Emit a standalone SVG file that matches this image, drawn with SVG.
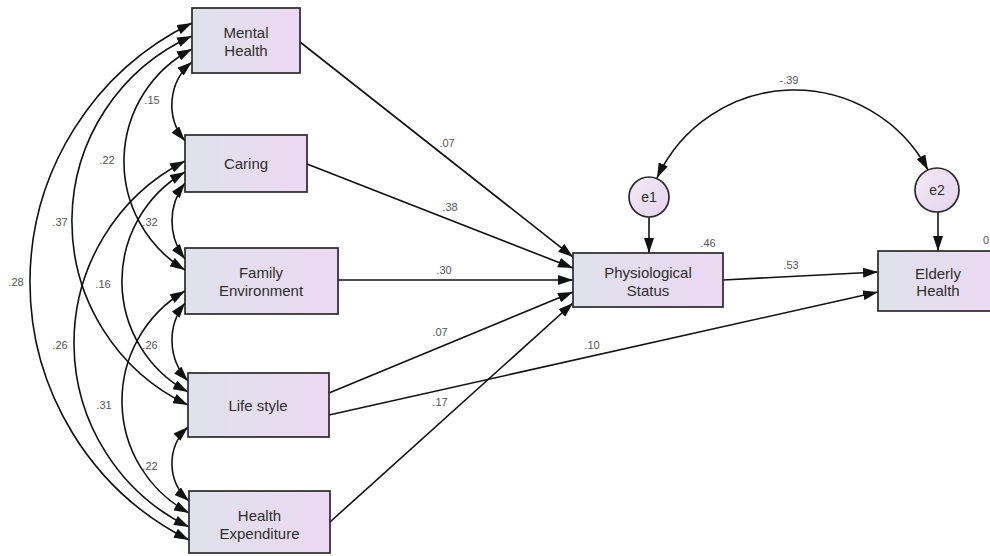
<svg xmlns="http://www.w3.org/2000/svg" width="990" height="556" viewBox="0 0 990 556">
<defs>
<linearGradient id="boxg" x1="0" y1="0" x2="1" y2="0">
<stop offset="0" stop-color="#dfe2eb"/>
<stop offset="1" stop-color="#ecd8f2"/>
</linearGradient>
<linearGradient id="circg" x1="0" y1="0" x2="1" y2="1">
<stop offset="0" stop-color="#f2eaf5"/>
<stop offset="1" stop-color="#e6d4ee"/>
</linearGradient>
<marker id="ah" viewBox="0 0 15 10" refX="15" refY="5" markerWidth="15" markerHeight="10" markerUnits="userSpaceOnUse" orient="auto-start-reverse">
<path d="M0,0 L15,5 L0,10 z" fill="#111"/>
</marker>
<style>
.box{fill:url(#boxg);stroke:#2a2a2a;stroke-width:1.7}
.circ{fill:url(#circg);stroke:#2a2a2a;stroke-width:1.7}
.lbl{font-family:"Liberation Sans",Arial,sans-serif;font-size:15px;fill:#2e2e2e;text-anchor:middle}
.num{font-family:"Liberation Sans",Arial,sans-serif;font-size:11px;fill:#555;text-anchor:middle}
.one{fill:none;stroke:#111;stroke-width:1.6;marker-end:url(#ah)}
.two{fill:none;stroke:#111;stroke-width:1.6;marker-start:url(#ah);marker-end:url(#ah)}
</style>
</defs>
<rect width="990" height="556" fill="#ffffff"/>

<g id="connectors">
<path class="two" d="M192,62 A55.9,55.9 0 0 0 185,141"/>
<path class="two" d="M185,183 A62,62 0 0 0 185,259"/>
<path class="two" d="M185,303 A59.8,59.8 0 0 0 188,381"/>
<path class="two" d="M188,427 A49.7,49.7 0 0 0 189,501"/>
<path class="two" d="M192,49 A127,127 0 0 0 185,270"/>
<path class="two" d="M185,172 A126,126 0 0 0 188,392"/>
<path class="two" d="M185,291 A127.3,127.3 0 0 0 189,513"/>
<path class="two" d="M192,36 A203.2,203.2 0 0 0 188,405"/>
<path class="two" d="M185,161 A204.7,204.7 0 0 0 189,527"/>
<path class="two" d="M192,23 A288.4,288.4 0 0 0 189,540"/>
<path class="two" d="M657,178 A151.4,151.4 0 0 1 928,170"/>
<line class="one" x1="300" y1="42" x2="573" y2="257"/>
<line class="one" x1="307" y1="164" x2="573" y2="268"/>
<line class="one" x1="338" y1="280" x2="573" y2="280"/>
<line class="one" x1="329" y1="393" x2="573" y2="292"/>
<line class="one" x1="330" y1="522" x2="573" y2="303"/>
<line class="one" x1="329" y1="415" x2="878" y2="292"/>
<line class="one" x1="723" y1="280" x2="878" y2="272"/>
<line class="one" x1="649" y1="217" x2="649" y2="253"/>
<line class="one" x1="938" y1="212" x2="938" y2="251"/>
<text class="num" x="152" y="104">.15</text>
<text class="num" x="107" y="164">.22</text>
<text class="num" x="60" y="226">.37</text>
<text class="num" x="150" y="226">.32</text>
<text class="num" x="16" y="286">.28</text>
<text class="num" x="103" y="288">.16</text>
<text class="num" x="60" y="349">.26</text>
<text class="num" x="150" y="349">.26</text>
<text class="num" x="104" y="409">.31</text>
<text class="num" x="150" y="470">.22</text>
<text class="num" x="447" y="147">.07</text>
<text class="num" x="450" y="211">.38</text>
<text class="num" x="444" y="274">.30</text>
<text class="num" x="440" y="336">.07</text>
<text class="num" x="440" y="406">.17</text>
<text class="num" x="592" y="349">.10</text>
<text class="num" x="791" y="269">.53</text>
<text class="num" x="789" y="84">-.39</text>
</g>

<g id="mental-health">
<rect class="box" x="192" y="8" width="108" height="65"/>
<text class="lbl" x="246" y="37.5">Mental</text>
<text class="lbl" x="246" y="55.5">Health</text>
</g>
<g id="caring">
<rect class="box" x="185" y="135" width="122" height="57"/>
<text class="lbl" x="246" y="168.5">Caring</text>
</g>
<g id="family-environment">
<rect class="box" x="185" y="248" width="153" height="66"/>
<text class="lbl" x="261" y="277.5">Family</text>
<text class="lbl" x="261" y="295.5">Environment</text>
</g>
<g id="life-style">
<rect class="box" x="188" y="373" width="141" height="64"/>
<text class="lbl" x="258" y="410.5">Life style</text>
</g>
<g id="health-expenditure">
<rect class="box" x="189" y="491" width="141" height="62"/>
<text class="lbl" x="259.5" y="520.5">Health</text>
<text class="lbl" x="259.5" y="538.5">Expenditure</text>
</g>
<g id="physiological-status">
<rect class="box" x="573" y="253" width="150" height="54"/>
<text class="lbl" x="648" y="277.5">Physiological</text>
<text class="lbl" x="648" y="295.5">Status</text>
<text class="num" x="708" y="247">.46</text>
</g>
<g id="elderly-health">
<rect class="box" x="878" y="251" width="120" height="60"/>
<text class="lbl" x="938" y="278.5">Elderly</text>
<text class="lbl" x="938" y="295.5">Health</text>
<text class="num" x="983" y="244" style="text-anchor:start">0</text>
</g>
<g id="e1">
<circle class="circ" cx="649" cy="197" r="20"/>
<text class="lbl" x="649" y="202" style="font-size:14px">e1</text>
</g>
<g id="e2">
<circle class="circ" cx="937" cy="190" r="22"/>
<text class="lbl" x="937" y="195" style="font-size:14px">e2</text>
</g>
</svg>
